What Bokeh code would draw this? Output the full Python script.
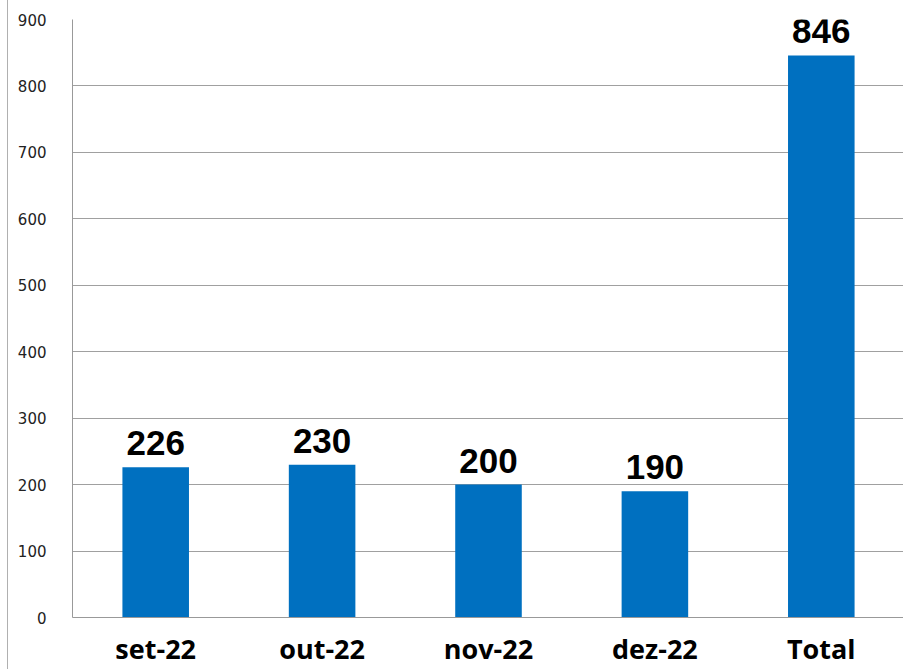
from bokeh.plotting import figure
from bokeh.models import ColumnDataSource, FixedTicker, Range1d, LabelSet
from bokeh.embed import file_html
from bokeh.resources import INLINE
from bokeh.core.properties import value

categories = ["set-22", "out-22", "nov-22", "dez-22", "Total"]
values = [226, 230, 200, 190, 846]
y_ticks = [0, 100, 200, 300, 400, 500, 600, 700, 800, 900]

src = ColumnDataSource(dict(cat=categories, val=values, lbl=[str(v) for v in values]))

p = figure(x_range=categories, y_range=Range1d(0, 900), width=896, height=669,
           output_backend="svg", toolbar_location=None,
           min_border_left=64, min_border_top=19, min_border_bottom=10, min_border_right=0)
p.styles = {"border-left": "1px solid #b0b0b0", "margin-left": "7px"}
p.x_range.range_padding = 0
p.vbar(x="cat", top="val", width=0.4, source=src, fill_color="#0070C0", line_color=None)

labels = LabelSet(x="cat", y="val", text="lbl", source=src, text_align="center",
                  text_baseline="bottom", y_offset=12, text_font=value("Liberation Sans"),
                  text_font_style="bold", text_font_size="35px", text_color="black")
p.add_layout(labels)

p.yaxis.ticker = FixedTicker(ticks=y_ticks)
p.yaxis.axis_line_color = "#999999"
p.yaxis.major_tick_line_color = None
p.yaxis.minor_tick_line_color = None
p.yaxis.major_label_standoff = 20
p.yaxis.major_label_text_font = "DejaVu Sans"
p.yaxis.major_label_text_font_size = "15px"
p.yaxis.major_label_text_color = "#222222"

p.xaxis.axis_line_color = "#999999"
p.xaxis.major_tick_line_color = None
p.xaxis.minor_tick_line_color = None
p.xaxis.major_label_standoff = 6
p.xaxis.major_label_text_font = "Open Sans"
p.xaxis.major_label_text_font_style = "bold"
p.xaxis.major_label_text_font_size = "27px"
p.xaxis.major_label_text_line_height = 0.9
p.xaxis.major_label_text_color = "black"

p.xgrid.grid_line_color = None
p.ygrid.grid_line_color = "#a0a0a0"
p.ygrid.grid_line_width = 1
p.outline_line_color = None

open("out.html", "w").write(file_html(p, INLINE))
